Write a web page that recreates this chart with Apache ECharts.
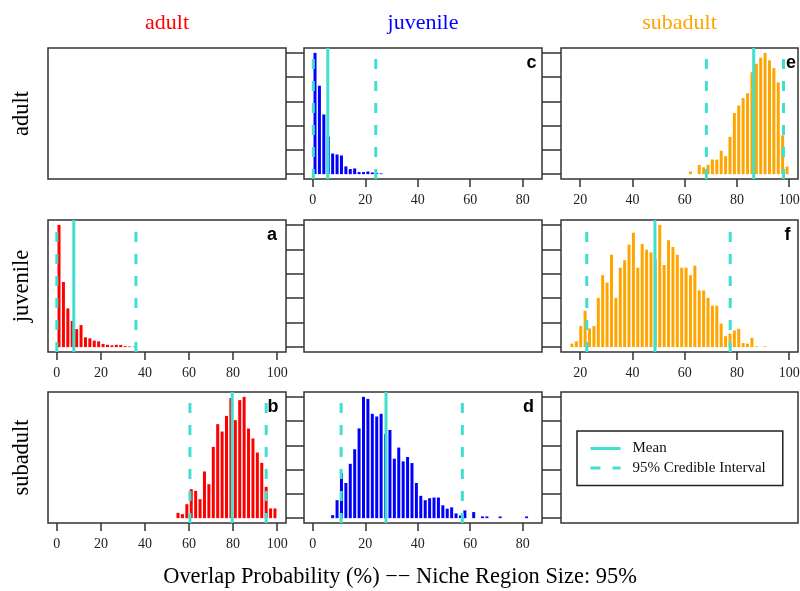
<!DOCTYPE html>
<html><head><meta charset="utf-8">
<script src="https://cdn.jsdelivr.net/npm/echarts@6/dist/echarts.min.js"></script>
<style>html,body{margin:0;padding:0;background:#fff}#c{width:800px;height:591px}</style>
</head><body><div id="c"></div>
<script>
// ---- data ----
const groups = ['adult', 'juvenile', 'subadult'];
const groupColors = ['#FF0000', '#0000FF', '#FFA500'];
const colRanges = [[0, 100], [0, 84], [16, 100]];   // histogram break range per column
const nBins = 50;
const xTicksCol1 = [0, 20, 40, 60, 80, 100];
const xTicksCol2 = [0, 20, 40, 60, 80];
const xTicksCol3 = [20, 40, 60, 80, 100];
const yTicks = [0, 20, 40, 60, 80, 100];

const panelLetters = ['a', 'b', 'c', 'd', 'e', 'f'];
const panelRow = [1, 2, 0, 2, 0, 1];
const panelCol = [0, 0, 1, 1, 2, 2];
const panelFirstBin = [0, 27, 0, 4, 27, 0];

const histA = [100, 53.3, 31.7, 21.4, 14.7, 18, 8, 7.2, 5.3, 4.7, 2.5, 1.9, 1.4, 1.9, 1.7, 0.8, 0.5, 0.3];
const histB = [4.4, 3.3, 11.5, 23.9, 22.5, 15.7, 38.5, 28, 58.8, 77.5, 71.4, 84.3, 99, 80.8, 97.3, 100, 73.9, 65.7, 54.1, 45.6, 25.8, 8, 8];
const histC = [100, 72.9, 49.2, 31, 17, 16.2, 15.4, 6.4, 4.2, 4.7, 1.7, 1.7, 2.2, 1.4, 1.1, 0.6];
const histD = [2.5, 14.8, 37, 29, 44.8, 56.8, 74, 100, 98.3, 86, 83.8, 86, 69.4, 72.7, 49, 58.2, 46.8, 50.4, 45.4, 29, 18.4, 14.8, 16.4, 17, 17, 10.6, 7.8, 8.9, 3.9, 2.2, 6.4, 0, 5, 0, 1.4, 1.4, 0, 0, 1.4, 0, 0, 0, 0, 0, 1.4];
const histE = [2.2, 0, 7.6, 5.6, 7.6, 12, 12, 19.3, 14.8, 30.8, 50.4, 56.6, 62.7, 66.7, 84, 91, 96, 100, 93.8, 87.4, 75.6, 32, 6.2];
const histF = [2.8, 4.7, 17.2, 29.7, 15.3, 17.2, 40.3, 58.9, 52.8, 75.6, 40.3, 65, 71.1, 83.9, 93.6, 65, 84.4, 79.7, 77.5, 72, 100, 67.2, 87.5, 81.9, 75.6, 65, 65, 58.9, 66.7, 46.4, 46.4, 40.3, 33.9, 33.9, 19.2, 8.9, 11.1, 13.6, 15, 3.3, 2.8, 7.5, 0.6, 0, 0.6];

const means = [7.7, 79.6, 5.7, 27.9, 86.4, 48.6];
const ciLow = [0, 60.4, 0.2, 10.8, 68.3, 22.5];
const ciHigh = [35.9, 95.0, 24.0, 57.0, 97.8, 77.4];

const titleText = 'Overlap Probability (%) \u2212\u2212 Niche Region Size: 95%';

// ---- layout ----
const colLeft = [48, 304, 561];
const colWidth = [238, 238, 237];
const rowTop = [48, 220, 392];
const rowHeight = [131, 132, 131];
const letterInset = [9, 7.5, 5.5, 8, 2, 7.5];
const cyan = '#40E0D0';
const frameColor = '#333';
const serif = '"Liberation Serif", "DejaVu Serif", serif';

const hists = [histA, histB, histC, histD, histE, histF];
const xTicks = [xTicksCol1, xTicksCol2, xTicksCol3];
// y tick sides per panel, with tick length = gap width
const gap1 = colLeft[1] - (colLeft[0] + colWidth[0]);
const gap2 = colLeft[2] - (colLeft[1] + colWidth[1]);
const panelYSides = [[['right', gap1]], [['right', gap1]], [['left', gap1], ['right', gap2]], [['right', gap2]], [], [['left', gap2]]];

const grids = [], xAxes = [], yAxes = [], series = [], graphics = [];

function addGrid(r, c) {
  grids.push({left: colLeft[c], top: rowTop[r], width: colWidth[c], height: rowHeight[r],
    show: true, borderColor: frameColor, borderWidth: 1.5, backgroundColor: '#fff',
    containLabel: false, outerBoundsMode: 'none'});
  return grids.length - 1;
}
function xLimits(c) {
  const [lo, hi] = colRanges[c]; const pad = (hi - lo) * 0.04;
  return [lo - pad, hi + pad];
}

// empty diagonal panels
[0, 1, 2].forEach(i => {
  const g = addGrid(i, i);
  xAxes.push({gridIndex: g, type: 'value', show: false, min: 0, max: 1});
  yAxes.push({gridIndex: g, type: 'value', show: false, min: 0, max: 1});
});

panelLetters.forEach((letter, p) => {
  const r = panelRow[p], c = panelCol[p];
  const g = addGrid(r, c);
  const [xmin, xmax] = xLimits(c);
  const xi = xAxes.length;
  xAxes.push({gridIndex: g, type: 'value', min: xmin, max: xmax, position: 'bottom',
    axisLine: {show: false, onZero: false}, splitLine: {show: false},
    axisTick: {show: true, length: 8, lineStyle: {color: frameColor, width: 1.5}, customValues: xTicks[c]},
    axisLabel: {show: true, customValues: xTicks[c], margin: 14, fontFamily: serif, fontSize: 14, color: '#222'}});
  const yi = yAxes.length;
  const sides = panelYSides[p].length ? panelYSides[p] : [['left', 0]];
  sides.forEach(([pos, len]) => {
    yAxes.push({gridIndex: g, type: 'value', min: -4, max: 104, position: pos,
      axisLine: {show: false, onZero: false}, splitLine: {show: false}, axisLabel: {show: false},
      axisTick: {show: len > 0, length: len, inside: false, lineStyle: {color: frameColor, width: 1.5}, customValues: yTicks}});
  });
  const [lo, hi] = colRanges[c]; const bw = (hi - lo) / nBins;
  const data = hists[p].map((h, k) => [lo + (panelFirstBin[p] + k + 0.5) * bw, h]);
  series.push({type: 'bar', xAxisIndex: xi, yAxisIndex: yi, data: data, barWidth: 3,
    itemStyle: {color: groupColors[c]}, silent: true, z: 2});
  series.push({type: 'line', name: 'Mean', xAxisIndex: xi, yAxisIndex: yi,
    data: [[means[p], -4], [means[p], 104]], symbol: 'none', silent: true, z: 3,
    lineStyle: {color: cyan, width: 3, type: 'solid'}, itemStyle: {color: cyan}});
  [ciLow[p], ciHigh[p]].forEach(v => {
    series.push({type: 'line', name: '95% Credible Interval', xAxisIndex: xi, yAxisIndex: yi,
      data: [[v, -4], [v, 104]], symbol: 'none', silent: true, z: 3,
      lineStyle: {color: cyan, width: 3, type: [10, 12]}, itemStyle: {color: cyan}});
  });
  graphics.push({type: 'text', x: colLeft[c] + colWidth[c] - letterInset[p], y: rowTop[r] + 24, silent: true, z: 10,
    style: {text: letter, fill: '#000', font: 'bold 18px "Liberation Sans", Arial, sans-serif',
      textAlign: 'right', align: 'right', textVerticalAlign: 'bottom', verticalAlign: 'bottom'}});
});

groups.forEach((name, i) => {
  graphics.push({type: 'text', x: colLeft[i] + colWidth[i] / 2, y: 23, silent: true,
    style: {text: name, fill: groupColors[i], font: '22px ' + serif,
      textAlign: 'center', align: 'center', textVerticalAlign: 'middle', verticalAlign: 'middle'}});
  graphics.push({type: 'text', x: 22, y: rowTop[i] + rowHeight[i] / 2, rotation: Math.PI / 2, silent: true,
    style: {text: name, fill: '#000', font: '22.5px ' + serif,
      textAlign: 'center', align: 'center', textVerticalAlign: 'middle', verticalAlign: 'middle'}});
});
graphics.push({type: 'text', x: 400, y: 577, silent: true,
  style: {text: titleText, fill: '#000', font: '22.4px ' + serif,
    textAlign: 'center', align: 'center', textVerticalAlign: 'middle', verticalAlign: 'middle'}});

const chart = echarts.init(document.getElementById('c'), null, {renderer: 'canvas'});
chart.setOption({
  animation: false,
  backgroundColor: '#fff',
  grid: grids, xAxis: xAxes, yAxis: yAxes, series: series,
  legend: {show: true, orient: 'vertical', left: 577, top: 431, padding: [10, 17, 10, 12],
    itemWidth: 30, itemHeight: 14, itemGap: 4.4, borderColor: '#222', borderWidth: 1.5,
    selectedMode: false, backgroundColor: '#fff',
    itemStyle: {opacity: 0},
    lineStyle: {width: 3},
    textStyle: {fontFamily: serif, fontSize: 15, color: '#111', padding: [0, 0, 0, 7]},
    data: [{name: 'Mean'}, {name: '95% Credible Interval'}]},
  graphic: graphics
});
</script></body></html>
